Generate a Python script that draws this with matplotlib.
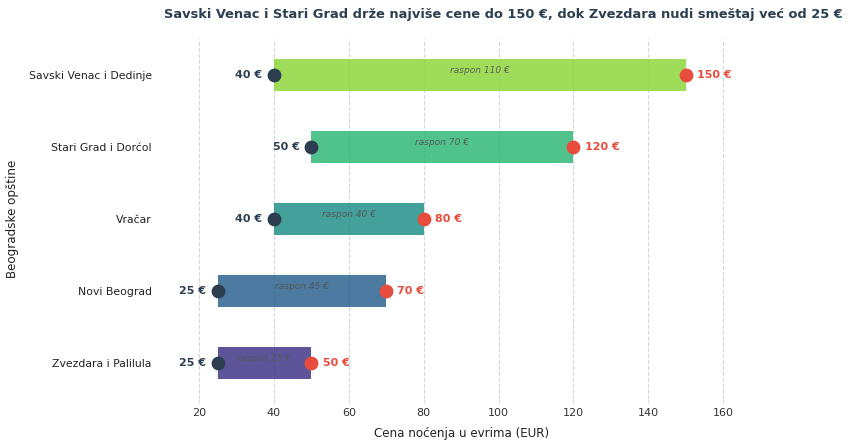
import matplotlib.pyplot as plt
import numpy as np

# data
opstine = ['Savski Venac i Dedinje', 'Stari Grad i Dorćol', 'Vračar',
           'Novi Beograd', 'Zvezdara i Palilula']
min_cena = [40, 50, 40, 25, 25]
max_cena = [150, 120, 80, 70, 50]
boje = ['#8ed63d', '#31b878', '#229088', '#2c6390', '#423687']

fig = plt.figure(figsize=(8.5, 4.43), dpi=100)
ax = fig.add_axes([0.19, 0.10, 0.705, 0.812])

y = np.arange(len(opstine))
for i, (lo, hi) in enumerate(zip(min_cena, max_cena)):
    ax.barh(y[i], hi - lo, left=lo, height=0.45, color=boje[i], alpha=0.85, zorder=2)
    ax.scatter(lo, y[i], s=80, color='#2c3e50', zorder=3)
    ax.scatter(hi, y[i], s=80, color='#e74c3c', zorder=3)
    ax.text(lo - 3, y[i], f'{lo} €', ha='right', va='center',
            fontsize=8, fontweight='bold', color='#2c3e50')
    ax.text(hi + 3, y[i], f'{hi} €', ha='left', va='center',
            fontsize=8, fontweight='bold', color='#e74c3c')
    ax.text((lo + hi) / 2, y[i] - 0.06, f'raspon {hi - lo} €', ha='center',
            va='center', fontsize=6.5, style='italic', color='#555555', alpha=0.9)

ax.set_yticks(y)
ax.set_yticklabels(opstine, fontsize=7.8, color='#222222')
ax.set_ylim(4.5, -0.5)
ax.set_xlim(10, 170)
ax.set_xticks(np.arange(20, 161, 20))
ax.tick_params(axis='x', labelsize=8, colors='#333333', length=3, color='#dddddd')
ax.tick_params(axis='y', length=0, pad=7)
ax.grid(axis='x', linestyle='--', color='#cccccc', alpha=0.8, zorder=0)
ax.set_axisbelow(True)
for s in ax.spines.values():
    s.set_visible(False)

ax.set_xlabel('Cena noćenja u evrima (EUR)', fontsize=8.6, color='#222222', labelpad=7)
ax.set_ylabel('Beogradske opštine', fontsize=8.6, color='#222222')
ax.yaxis.set_label_coords(-0.237, 0.5)
fig.text(0.592, 0.967,
         'Savski Venac i Stari Grad drže najviše cene do 150 €, dok Zvezdara nudi smeštaj već od 25 €',
         ha='center', va='center', fontsize=9.4, fontweight='bold', color='#2c3e50')

fig.savefig('out.png', dpi=100)
